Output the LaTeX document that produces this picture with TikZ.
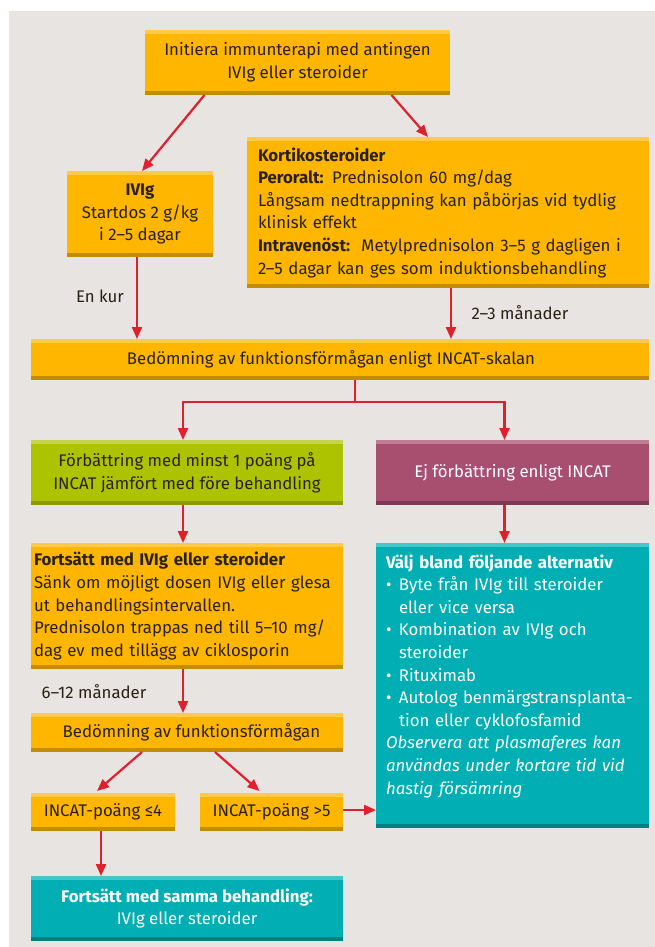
\documentclass[tikz,border=0pt]{standalone}
\usepackage{fontspec}
\setmainfont{Fira Sans}
\usepackage{tikz}
\usetikzlibrary{arrows.meta}
\usetikzlibrary{calc}

\definecolor{bakgrund}{HTML}{E8E4E1}
\definecolor{orange}{HTML}{FFB600}
\definecolor{orangelj}{HTML}{FFC94A}
\definecolor{orangemo}{HTML}{C48C00}
\definecolor{gron}{HTML}{AEC300}
\definecolor{gronlj}{HTML}{C4D450}
\definecolor{gronmo}{HTML}{8A9A00}
\definecolor{lila}{HTML}{A84F70}
\definecolor{lilalj}{HTML}{C07E95}
\definecolor{lilamo}{HTML}{7E3A54}
\definecolor{turkos}{HTML}{00AEB3}
\definecolor{turkoslj}{HTML}{45C6C9}
\definecolor{turkosmo}{HTML}{00807F}
\definecolor{pilrod}{HTML}{E0202D}
\definecolor{textmork}{HTML}{2A2116}

\newcommand{\pkt}{\makebox[13pt][l]{\textbullet}}
\newcommand{\ind}{\hspace*{13pt}}

\tikzset{
  ruta/.style n args={3}{fill=#1, inner sep=0pt, outer sep=0pt, align=center,
    path picture={
      \fill[#2] (path picture bounding box.north west) rectangle ([yshift=-4pt]path picture bounding box.north east);
      \fill[#3] (path picture bounding box.south west) rectangle ([yshift=4pt]path picture bounding box.south east);
    }},
  orangeruta/.style={ruta={orange}{orangelj}{orangemo}, text=textmork},
  gronruta/.style={ruta={gron}{gronlj}{gronmo}, text=textmork},
  lilaruta/.style={ruta={lila}{lilalj}{lilamo}, text=white},
  turkosruta/.style={ruta={turkos}{turkoslj}{turkosmo}, text=white},
  pil/.style={draw=pilrod, line width=2.2pt, -{Triangle[length=12pt,width=10pt]}},
  linje/.style={draw=pilrod, line width=2.2pt},
  etikett/.style={text=textmork, inner sep=0pt}
}

\begin{document}
\begin{tikzpicture}[x=1pt, y=-1pt, font=\fontsize{16.8pt}{22.6pt}\selectfont]

\useasboundingbox (0,0) rectangle (655,947);
\fill[bakgrund] (9,11) rectangle (655,947);

\node[orangeruta, minimum width=305pt, minimum height=65pt] (init) at (297.5,62.5)
  {Initiera immunterapi med antingen\\IVIg eller steroider};
\node[orangeruta, minimum width=146pt, minimum height=86pt] (ivig) at (140,214)
  {\textbf{IVIg}\\Startdos 2 g/kg\\i 2–5 dagar};
\node[orangeruta, minimum width=402pt, minimum height=151pt, text width=380pt,
  inner xsep=11pt, align=left] (kort) at (448,212.5)
  {\textbf{Kortikosteroider}\\
   \textbf{Peroralt:} Prednisolon 60 mg/dag\\
   Långsam nedtrappning kan påbörjas vid tydlig\\
   klinisk effekt\\
   \textbf{Intravenöst:}\ \ Metylprednisolon 3–5 g dagligen i\\
   2–5 dagar kan ges som induktionsbehandling};

\node[orangeruta, minimum width=618pt, minimum height=41pt] (incat) at (340,359.5)
  {Bedömning av funktionsförmågan enligt INCAT-skalan\hspace*{18pt}};

\node[gronruta, minimum width=312pt, minimum height=65pt] (bett) at (187,472.5)
  {Förbättring med minst 1 poäng på\\INCAT jämfört med före behandling};
\node[lilaruta, minimum width=273pt, minimum height=65pt] (ejbett) at (512.5,472.5)
  {Ej förbättring enligt INCAT};

\node[orangeruta, minimum width=312pt, minimum height=126pt, text width=306pt,
  inner xsep=3pt, align=left] (fort) at (187,606)
  {\textbf{Fortsätt med IVIg eller steroider}\\
   Sänk om möjligt dosen IVIg eller glesa\\
   ut behandlingsintervallen.\\
   Prednisolon trappas ned till 5–10 mg/\\
   dag ev med tillägg av ciklosporin};

\node[turkosruta, minimum width=273pt, minimum height=285pt, text width=253pt,
  inner xsep=10pt, align=left] (valj) at (512.5,685.5)
  {\textbf{Välj bland följande alternativ}\\
   \pkt Byte från IVIg till steroider\\
   \ind eller vice versa\\
   \pkt Kombination av IVIg och\\
   \ind steroider\\
   \pkt Rituximab\\
   \pkt Autolog benmärgstransplanta-\\
   \ind tion eller cyklofosfamid\\
   \textit{Observera att plasmaferes kan}\\
   \textit{användas under kortare tid vid}\\
   \textit{hastig försämring}\\
   \mbox{}};

\node[orangeruta, minimum width=312pt, minimum height=39pt] (bedom) at (187,732.5)
  {\ \ Bedömning av funktionsförmågan};
\node[orangeruta, minimum width=144pt, minimum height=38pt] (lag) at (103,812)
  {INCAT-poäng ≤4};
\node[orangeruta, minimum width=143pt, minimum height=38pt] (hog) at (271.5,812)
  {INCAT-poäng >5};
\node[turkosruta, minimum width=312pt, minimum height=65pt] (samma) at (187,908.5)
  {\textbf{Fortsätt med samma behandling:}\\IVIg eller steroider};

\draw[pil] ([xshift=-93pt]init.south) -- ([xshift=2pt]ivig.north);
\draw[pil] ([xshift=94pt]init.south) -- ([xshift=-20pt]kort.north);
\draw[pil] ([xshift=-3pt]ivig.south) -- ([xshift=-3pt]ivig.south |- incat.north);
\draw[pil] ([xshift=3pt]kort.south) -- ([xshift=3pt]kort.south |- incat.north);
\node[etikett] (enkur) at (100,296) {En kur};
\node[etikett] (tremanader) at (520,313) {2–3 månader};

\coordinate (delning) at (355,402);
\draw[linje] (incat.south -| delning) -- (delning);
\draw[pil] (delning) -| ([xshift=-4pt]bett.north);
\draw[pil] (delning) -| ([xshift=-8pt]ejbett.north);

\draw[pil] ([xshift=-4pt]bett.south) -- ([xshift=-4pt]bett.south |- fort.north);
\draw[pil] ([xshift=-8pt]ejbett.south) -- ([xshift=-8pt]ejbett.south |- valj.north);
\draw[pil] ([xshift=-4pt]fort.south) -- ([xshift=-4pt]fort.south |- bedom.north);
\node[etikett] (sexmanader) at (94,692) {6–12 månader};

\draw[pil] ([xshift=-45pt]bedom.south) -- ([xshift=-6pt,yshift=2pt]lag.north);
\draw[pil] ([xshift=28pt]bedom.south) -- ([xshift=-12pt,yshift=2pt]hog.north);
\draw[pil] ([yshift=2pt]hog.east) -- ([yshift=2pt]hog.east -| valj.west);
\draw[pil] ([xshift=-2pt]lag.south) -- ([xshift=-2pt]lag.south |- samma.north);

\end{tikzpicture}
\end{document}
